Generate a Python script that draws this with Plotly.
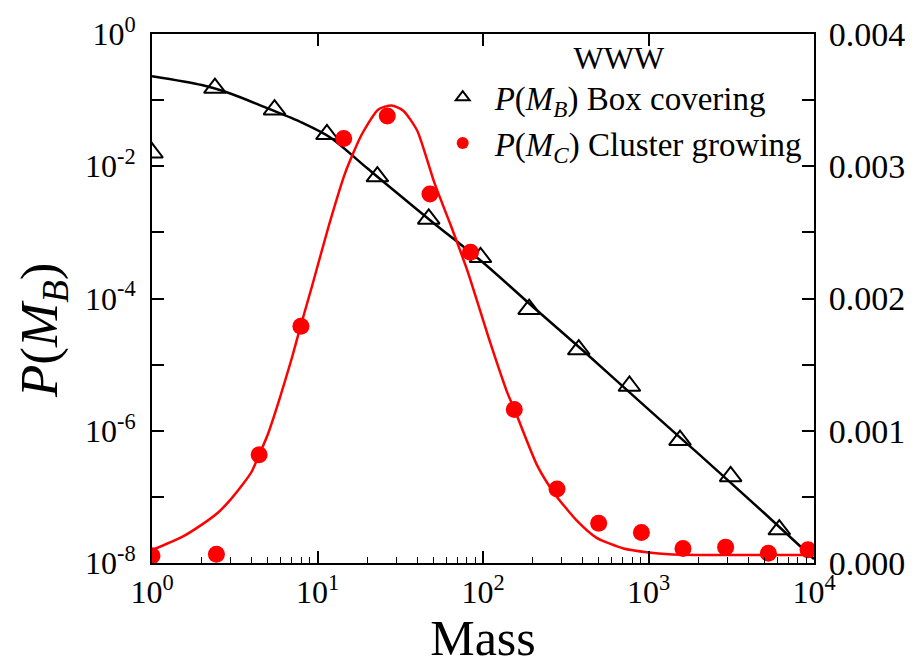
import plotly.graph_objects as go

# ---- data ----
box_mass = [1, 2.4, 5.5, 11.4, 23, 47, 96.6, 190, 379, 767, 1550, 3135, 6170]
box_p = [0.016, 0.152, 0.0716, 0.0304, 0.00698, 0.0016, 4.2e-4, 6.9e-5,
         1.69e-5, 4.75e-6, 7.2e-7, 2.04e-7, 3.2e-8]

box_fit_mass = [1, 2, 3, 5, 8, 12, 20, 30, 50, 100, 200, 400, 1000, 2000, 5000, 10000]
box_fit_p = [0.23, 0.169, 0.125, 0.075, 0.046, 0.027, 0.0093, 0.004, 0.0014,
             3.5e-4, 7.5e-5, 1.65e-5, 2.1e-6, 4.5e-7, 5.7e-8, 1.15e-8]

cl_mass = [1, 2.45, 4.44, 7.94, 14.4, 26.4, 47.8, 84, 154.5, 280, 500, 906,
           1616, 2925, 5300, 9200]
cl_p = [0.055e-3, 0.067e-3, 0.818e-3, 1.79e-3, 3.21e-3, 3.38e-3, 2.79e-3,
        2.35e-3, 1.16e-3, 0.56e-3, 0.30e-3, 0.23e-3, 0.11e-3, 0.12e-3,
        0.074e-3, 0.1e-3]

cl_fit_mass = [1, 1.5, 2, 2.5, 3, 3.5, 4, 4.44, 5, 5.86, 7, 7.9, 9.3, 11.7,
               14.7, 18.5, 23.3, 28, 33, 40, 51, 64, 81, 111, 140, 155, 212,
               272, 369, 486, 706, 1000, 1330, 3000, 10000]
cl_fit_p = [0.097e-3, 0.193e-3, 0.29e-3, 0.38e-3, 0.483e-3, 0.587e-3, 0.69e-3,
            0.818e-3, 0.97e-3, 1.23e-3, 1.55e-3, 1.79e-3, 2.10e-3, 2.55e-3,
            2.95e-3, 3.24e-3, 3.43e-3, 3.46e-3, 3.42e-3, 3.27e-3, 2.87e-3,
            2.55e-3, 2.2e-3, 1.66e-3, 1.29e-3, 1.16e-3, 0.74e-3, 0.52e-3,
            0.32e-3, 0.19e-3, 0.11e-3, 0.08e-3, 0.067e-3, 0.06e-3, 0.06e-3]

x_exps = [0, 1, 2, 3, 4]
y_exps = [0, -1, -2, -3, -4, -5, -6, -7, -8]
right_ticks = [0, 0.0005, 0.001, 0.0015, 0.002, 0.0025, 0.003, 0.0035, 0.004]

FONT = "Liberation Serif"

fig = go.Figure()

fig.add_trace(go.Scatter(x=box_fit_mass, y=box_fit_p, mode="lines",
                         line=dict(color="black", width=2.5, shape="spline",
                                   smoothing=0.8),
                         showlegend=False, hoverinfo="skip"))
fig.add_trace(go.Scatter(x=cl_fit_mass, y=cl_fit_p, mode="lines", yaxis="y2",
                         line=dict(color="#ff0000", width=2.5, shape="spline",
                                   smoothing=0.6),
                         showlegend=False, hoverinfo="skip"))
fig.add_trace(go.Scatter(x=box_mass, y=box_p, mode="markers",
                         name="<i>P</i>(<i>M<sub>B</sub></i>) Box covering",
                         marker=dict(symbol="triangle-up-open", size=19,
                                     color="black", line=dict(width=2, color="black"))))
fig.add_trace(go.Scatter(x=cl_mass, y=cl_p, mode="markers", yaxis="y2",
                         name="<i>P</i>(<i>M<sub>C</sub></i>) Cluster growing",
                         marker=dict(symbol="circle", size=17, color="#ff0000")))
# top mirror axis holder
fig.add_trace(go.Scatter(x=[10], y=[None], xaxis="x2", showlegend=False,
                         hoverinfo="skip"))

def sup(e):
    return "10<sup>%d</sup>" % e

minor_x = [m * 10 ** k for k in range(4) for m in range(2, 10)]

fig.update_layout(
    width=917, height=668,
    margin=dict(l=152, r=98, t=25, b=105),
    plot_bgcolor="white", paper_bgcolor="white",
    font=dict(family=FONT, size=32, color="black"),
    xaxis=dict(type="log", range=[0, 4], showline=True, linecolor="black",
               linewidth=2, mirror=False, ticks="inside", ticklen=12,
               tickwidth=1.5, tickcolor="black", showgrid=False, zeroline=False,
               tickmode="array", tickvals=[10 ** e for e in x_exps],
               ticktext=[sup(e) for e in x_exps],
               tickfont=dict(size=32, family=FONT),
               minor=dict(ticks="inside", ticklen=6, tickwidth=1.2,
                          tickcolor="black", tickmode="array", tickvals=minor_x,
                          showgrid=False),
               title=dict(text="Mass", font=dict(size=50, family=FONT), standoff=4)),
    xaxis2=dict(type="log", range=[0, 4], overlaying="x", side="top",
                anchor="y", showline=True, linecolor="black", linewidth=2,
                ticks="inside", ticklen=12, tickwidth=1.5, tickcolor="black",
                tickmode="array", tickvals=[10 ** e for e in x_exps],
                showticklabels=False, showgrid=False, zeroline=False),
    yaxis=dict(type="log", range=[-8, 0], showline=True, linecolor="black",
               linewidth=2, ticks="inside", ticklen=12, tickwidth=1.5,
               tickcolor="black", showgrid=False, zeroline=False,
               tickmode="array", tickvals=[10.0 ** e for e in y_exps],
               ticktext=[sup(e) if e % 2 == 0 else "" for e in y_exps],
               tickfont=dict(size=32, family=FONT), ticklabelstandoff=8),
    yaxis2=dict(overlaying="y", side="right", range=[0, 0.004],
                showline=True, linecolor="black", linewidth=2,
                ticks="inside", ticklen=12, tickwidth=1.5, tickcolor="black",
                showgrid=False, zeroline=False, tickmode="array",
                tickvals=right_ticks,
                ticktext=["%.3f" % v if abs(v * 1000 - round(v * 1000)) < 1e-9 else ""
                          for v in right_ticks],
                tickfont=dict(size=34, family=FONT), ticklabelstandoff=6),
    legend=dict(x=0.421, y=1.012, xanchor="left", yanchor="top",
                bgcolor="rgba(0,0,0,0)", font=dict(size=33, family=FONT),
                title=dict(text="WWW", side="top center",
                           font=dict(size=32, family=FONT)),
                itemsizing="constant", itemwidth=54),
    annotations=[dict(text="<i>P</i>(<i>M<sub>B</sub></i>)", textangle=-90,
                      xref="paper", yref="paper", x=-0.165, y=0.44,
                      xanchor="center", yanchor="middle", showarrow=False,
                      font=dict(size=53, family=FONT))],
)

fig.write_html("out.html")
